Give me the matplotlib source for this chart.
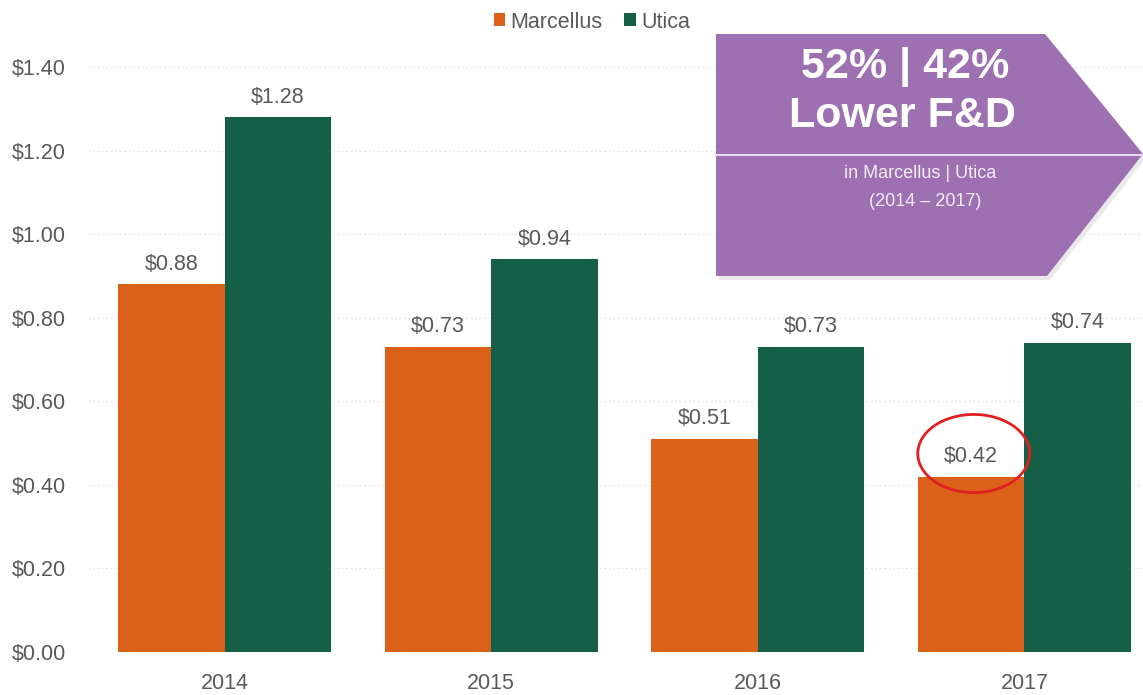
import matplotlib
matplotlib.use("Agg")
import matplotlib.pyplot as plt
from matplotlib.patches import Polygon, Ellipse
import numpy as np

plt.rcParams['font.family'] = ['Liberation Sans', 'DejaVu Sans']

years = ["2014", "2015", "2016", "2017"]
marcellus = [0.88, 0.73, 0.51, 0.42]
utica = [1.28, 0.94, 0.73, 0.74]
series_names = ["Marcellus", "Utica"]
yticks = [0.0, 0.2, 0.4, 0.6, 0.8, 1.0, 1.2, 1.4]

c_orange = "#DB611A"
c_green = "#155E48"
c_purple = "#9D71B1"
c_text = "#595959"

W, H = 1143, 695
fig = plt.figure(figsize=(W / 100, H / 100), dpi=100)
ax = fig.add_axes([88 / W, (H - 652) / H, 1 - 88 / W, (652 - 67) / H])

x = np.arange(len(years))
bw = 0.4
b1 = ax.bar(x - bw / 2, marcellus, bw, color=c_orange, label=series_names[0], zorder=3)
b2 = ax.bar(x + bw / 2, utica, bw, color=c_green, label=series_names[1], zorder=3)

ax.set_xlim(-0.513, 3.445)
ax.set_ylim(0, 1.4)
ax.set_yticks(yticks)
ax.set_yticklabels([f"${v:.2f}" for v in yticks])
ax.set_xticks(x)
ax.set_xticklabels(years)
ax.tick_params(axis='both', length=0, labelsize=15.5, labelcolor=c_text)
ax.tick_params(axis='x', pad=15)
ax.tick_params(axis='y', pad=16)
for s in ax.spines.values():
    s.set_visible(False)
ax.grid(axis='y', color="#e6e6e6", linestyle=(0, (2, 2)), linewidth=0.8, zorder=0)

for bars, vals in ((b1, marcellus), (b2, utica)):
    for rect, v in zip(bars, vals):
        ax.annotate(f"${v:.2f}", (rect.get_x() + rect.get_width() / 2, v),
                    xytext=(0, 14.5), textcoords="offset points",
                    ha='center', va='center', fontsize=15.5, color=c_text)

# Circle highlight around the 2017 Marcellus label
ax.add_patch(Ellipse((x[3] - bw / 2 + 0.01, marcellus[3] + 0.055), 0.42, 0.187,
                     fill=False, edgecolor="#E02020", linewidth=2, zorder=5))

leg = fig.legend(handles=[b1, b2], loc='center', bbox_to_anchor=(592 / W, 1 - 22 / H),
                 ncol=2, frameon=False, fontsize=15.5, handlelength=0.55, handleheight=0.55,
                 handletextpad=0.25, columnspacing=1.0, borderpad=0)
for t in leg.get_texts():
    t.set_color(c_text)

# Purple callout arrow
def fx(px):
    return px / W

def fy(py):
    return 1 - py / H

shadow = Polygon([(fx(719), fy(37)), (fx(1048), fy(37)), (fx(1146), fy(158)),
                  (fx(1050), fy(280)), (fx(719), fy(280))],
                 closed=True, transform=fig.transFigure, facecolor="#d6d6d6", edgecolor='none', alpha=0.5)
fig.patches.append(shadow)
arrow = Polygon([(fx(716), fy(34)), (fx(1045), fy(34)), (fx(1143), fy(154)),
                 (fx(1047), fy(276)), (fx(716), fy(276))],
                closed=True, transform=fig.transFigure, facecolor=c_purple, edgecolor='none')
fig.patches.append(arrow)
fig.add_artist(plt.Line2D([fx(716), fx(1143)], [fy(155), fy(155)], transform=fig.transFigure,
                          color="#e8dcef", linewidth=1.5))

fig.text(fx(905), fy(67), "52% | 42%", ha='center', va='center', fontsize=31,
         fontweight='bold', color='white')
fig.text(fx(902), fy(116), "Lower F&D", ha='center', va='center', fontsize=31,
         fontweight='bold', color='white')
fig.text(fx(920), fy(173), "in Marcellus | Utica", ha='center', va='center', fontsize=13,
         color="#f3ecf6")
fig.text(fx(925), fy(202), "(2014 \u2013 2017)", ha='center', va='center', fontsize=13,
         color="#f3ecf6")

fig.savefig("out.png", dpi=100)
